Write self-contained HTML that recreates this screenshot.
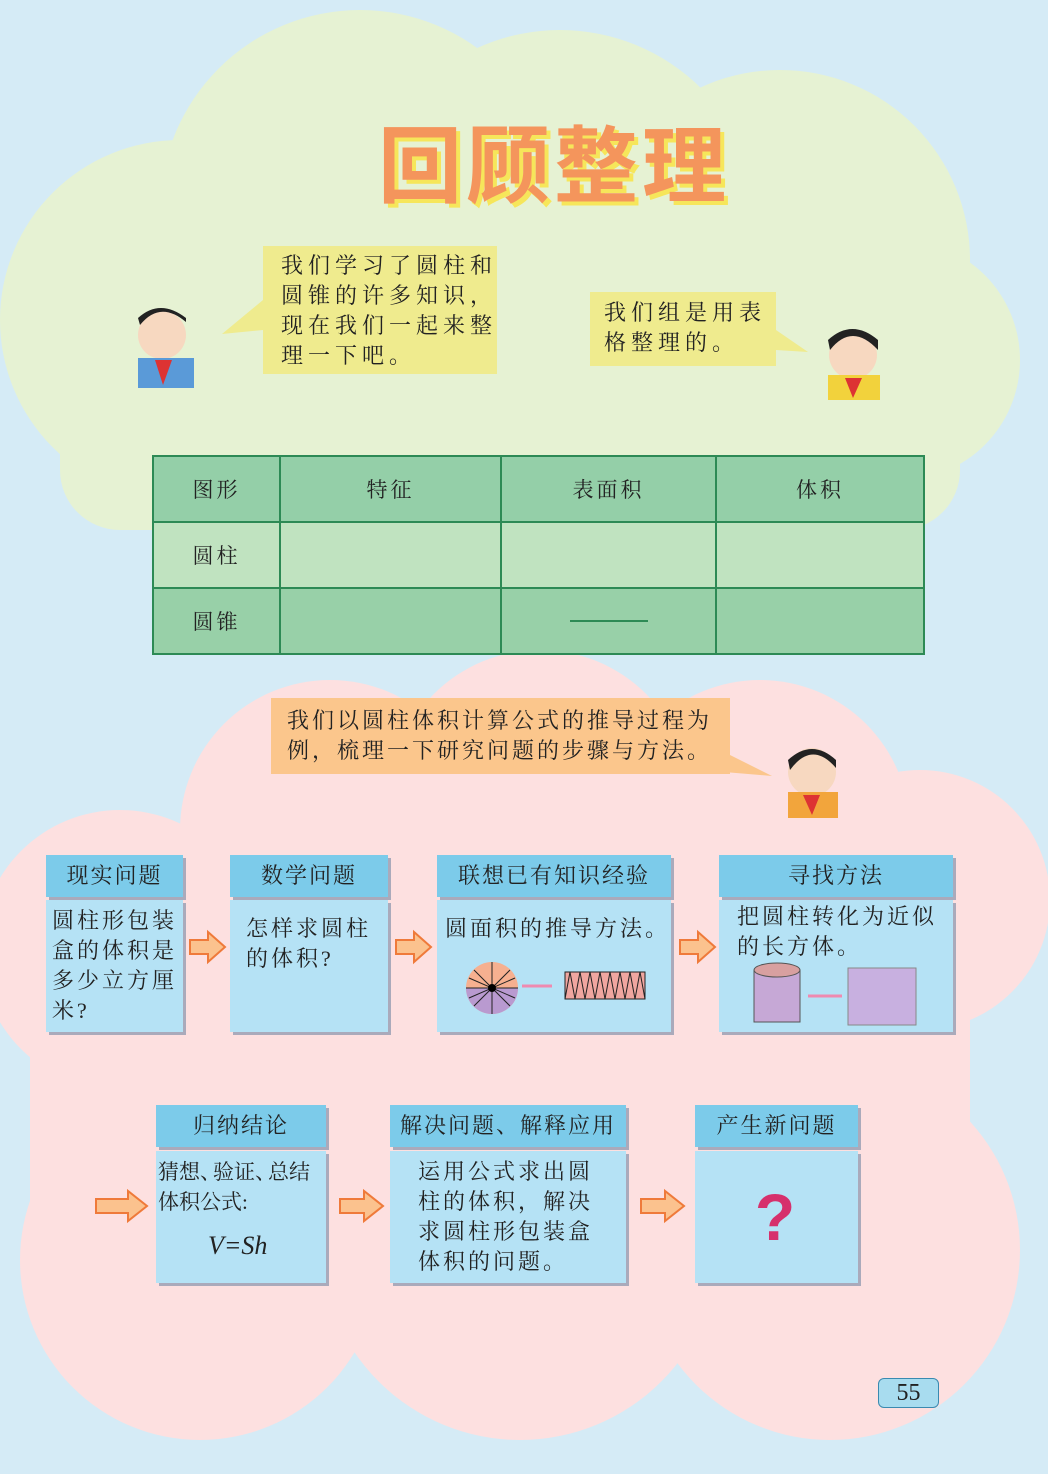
<!DOCTYPE html>
<html><head><meta charset="utf-8"><style>
body{margin:0;width:1048px;height:1474px;position:relative;overflow:hidden;background:#d5ebf6;font-family:"Liberation Serif","Noto Serif CJK SC","Noto Sans CJK SC",serif;color:#222}
.a{position:absolute}
.bub{position:absolute;font-size:22px;line-height:30px;letter-spacing:5px;box-sizing:border-box;white-space:nowrap}
.hd{position:absolute;background:#7ccbea;text-align:center;font-size:22px;line-height:42px;letter-spacing:2px;box-shadow:3px 3px 0 #aab}
.bd{position:absolute;background:#b5e2f5;font-size:22px;line-height:30px;letter-spacing:3px;box-sizing:border-box;box-shadow:3px 3px 0 #aab;white-space:nowrap}
table{border-collapse:collapse}
td{border:2px solid #2d8a55;text-align:center;font-size:21px;letter-spacing:3px}
</style></head><body>
<svg class="a" style="left:0;top:0" width="1048" height="1474">
<g fill="#e6f2d3">
<circle cx="360" cy="210" r="200"/><circle cx="560" cy="230" r="200"/><circle cx="780" cy="260" r="190"/>
<circle cx="180" cy="320" r="180"/><circle cx="900" cy="360" r="120"/><circle cx="500" cy="400" r="200"/>
<rect x="60" y="250" width="900" height="280" rx="60"/>
</g>
<g fill="#fde0e0">
<circle cx="540" cy="800" r="150"/><circle cx="330" cy="830" r="150"/><circle cx="760" cy="830" r="150"/>
<circle cx="920" cy="900" r="130"/><circle cx="120" cy="950" r="140"/><circle cx="200" cy="1260" r="180"/>
<circle cx="520" cy="1240" r="200"/><circle cx="830" cy="1250" r="190"/>
<rect x="90" y="850" width="880" height="400"/>
<rect x="30" y="880" width="70" height="420"/>
</g>
</svg>
<div class="a" style="left:378px;top:100px;font:bold 84px 'Noto Sans CJK SC',sans-serif;color:#f4955c;text-shadow:4px 4px 0 #f6e65a;letter-spacing:4px">回顾整理</div>
<svg class="a" style="left:0;top:0" width="1048" height="1474">
<polygon points="263,300 263,330 222,334" fill="#efeb8e"/>
<polygon points="776,330 776,350 808,352" fill="#efeb8e"/>
<polygon points="700,740 700,770 772,776" fill="#fbc68c"/>
<circle cx="162" cy="335" r="24" fill="#f7d8c0"/><path d="M140 325 Q160 300 186 322 L186 318 Q160 298 138 318Z" fill="#222"/>
<rect x="138" y="358" width="56" height="30" fill="#5a9ad8"/><polygon points="155,360 172,360 163,385" fill="#d33"/>
<circle cx="853" cy="355" r="24" fill="#f7d8c0"/><path d="M830 350 Q852 322 878 350 L878 340 Q852 318 828 340Z" fill="#222"/>
<rect x="828" y="375" width="52" height="25" fill="#f2d23c"/><polygon points="845,378 862,378 853,398" fill="#d33"/>
<circle cx="812" cy="772" r="24" fill="#f7d8c0"/><path d="M790 770 Q812 740 836 768 L836 760 Q812 738 788 760Z" fill="#222"/>
<rect x="788" y="792" width="50" height="26" fill="#f2a53c"/><polygon points="803,795 820,795 812,815" fill="#d33"/>
<g fill="#fbc28e" stroke="#ef7a3a" stroke-width="2">
<polygon points="190,940 208,940 208,932 225,947 208,962 208,954 190,954"/>
<polygon points="396,940 414,940 414,932 431,947 414,962 414,954 396,954"/>
<polygon points="680,940 698,940 698,932 715,947 698,962 698,954 680,954"/>
<polygon points="96,1199 128,1199 128,1191 147,1206 128,1221 128,1213 96,1213"/>
<polygon points="340,1199 364,1199 364,1191 383,1206 364,1221 364,1213 340,1213"/>
<polygon points="641,1199 665,1199 665,1191 684,1206 665,1221 665,1213 641,1213"/>
</g>
</svg>
<div class="bub" style="left:263px;top:246px;width:234px;height:128px;background:#efeb8e;padding:5px 0 0 18px">我们学习了圆柱和<br>圆锥的许多知识，<br>现在我们一起来整<br>理一下吧。</div>
<div class="bub" style="left:590px;top:292px;width:186px;height:74px;background:#efeb8e;padding:6px 0 0 14px">我们组是用表<br>格整理的。</div>
<div class="bub" style="left:271px;top:698px;width:459px;height:76px;background:#fbc68c;padding:8px 0 0 16px;letter-spacing:3px">我们以圆柱体积计算公式的推导过程为<br>例，梳理一下研究问题的步骤与方法。</div>
<table class="a" style="left:152px;top:455px;width:773px;height:198px">
<tr style="background:#94cfa8;height:66px"><td style="width:123px">图形</td><td style="width:217px">特征</td><td style="width:211px">表面积</td><td>体积</td></tr>
<tr style="background:#c0e3c0;height:66px"><td>圆柱</td><td></td><td></td><td></td></tr>
<tr style="background:#98d0a8;height:66px"><td>圆锥</td><td></td><td><div style="width:78px;height:2px;background:#2d8a55;margin:auto"></div></td><td></td></tr>
</table>
<div class="hd" style="left:46px;top:855px;width:137px">现实问题</div>
<div class="bd" style="left:46px;top:900px;width:137px;height:132px;padding:6px 0 0 6px">圆柱形包装<br>盒的体积是<br>多少立方厘<br>米?</div>
<div class="hd" style="left:230px;top:855px;width:158px">数学问题</div>
<div class="bd" style="left:230px;top:900px;width:158px;height:132px;padding:14px 0 0 16px">怎样求圆柱<br>的体积?</div>
<div class="hd" style="left:437px;top:855px;width:234px">联想已有知识经验</div>
<div class="bd" style="left:437px;top:900px;width:234px;height:132px;padding:14px 0 0 8px">圆面积的推导方法。</div>
<div class="hd" style="left:719px;top:855px;width:234px">寻找方法</div>
<div class="bd" style="left:719px;top:900px;width:234px;height:132px;padding:2px 0 0 18px">把圆柱转化为近似<br>的长方体。</div>
<div class="hd" style="left:156px;top:1105px;width:170px">归纳结论</div>
<div class="bd" style="left:156px;top:1151px;width:170px;height:132px;padding:6px 0 0 2px;letter-spacing:0;font-size:21px">猜想<span style="margin-right:-8px">、</span>验证<span style="margin-right:-8px">、</span>总结<br>体积公式:<div style="font-style:italic;font-size:26px;margin:14px 0 0 50px;letter-spacing:0">V=Sh</div></div>
<div class="hd" style="left:390px;top:1105px;width:236px">解决问题、解释应用</div>
<div class="bd" style="left:390px;top:1151px;width:236px;height:132px;padding:6px 0 0 28px">运用公式求出圆<br>柱的体积，解决<br>求圆柱形包装盒<br>体积的问题。</div>
<div class="hd" style="left:695px;top:1105px;width:163px">产生新问题</div>
<div class="bd" style="left:695px;top:1151px;width:163px;height:132px;text-align:center;font:bold 66px 'Liberation Sans',sans-serif;color:#d6306c;line-height:132px">?</div>
<svg class="a" style="left:0;top:0" width="1048" height="1474">
<circle cx="492" cy="988" r="26" fill="#f6b090"/><path d="M466 988 A26 26 0 0 0 518 988Z" fill="#b99ad0"/>
<g stroke="#222" stroke-width="1"><line x1="466" y1="988" x2="518" y2="988"/><line x1="492" y1="962" x2="492" y2="1014"/><line x1="474" y1="970" x2="510" y2="1006"/><line x1="510" y1="970" x2="474" y2="1006"/><line x1="469" y1="978" x2="515" y2="998"/><line x1="515" y1="978" x2="469" y2="998"/></g>
<circle cx="492" cy="988" r="4" fill="#000"/>
<line x1="522" y1="986" x2="552" y2="986" stroke="#ef8ab0" stroke-width="3"/>
<rect x="565" y="972" width="80" height="27" fill="#f0a6a0" stroke="#222"/>
<path d="M565 999 L570 972 L575 999 L580 972 L585 999 L590 972 L595 999 L600 972 L605 999 L610 972 L615 999 L620 972 L625 999 L630 972 L635 999 L640 972 L645 999" fill="none" stroke="#222"/>
<rect x="754" y="970" width="46" height="52" fill="#c6a8d6" stroke="#555"/><ellipse cx="777" cy="970" rx="23" ry="7" fill="#d8a0a0" stroke="#555"/>
<line x1="808" y1="996" x2="842" y2="996" stroke="#ef8ab0" stroke-width="3"/>
<rect x="848" y="968" width="68" height="57" fill="#c8b0e0" stroke="#888"/>
</svg>
<div class="a" style="left:878px;top:1378px;width:59px;height:28px;background:#a8dcef;border:1.5px solid #3a8ab0;border-radius:6px;text-align:center;font:24px/28px 'Liberation Serif',serif">55</div>
</body></html>
